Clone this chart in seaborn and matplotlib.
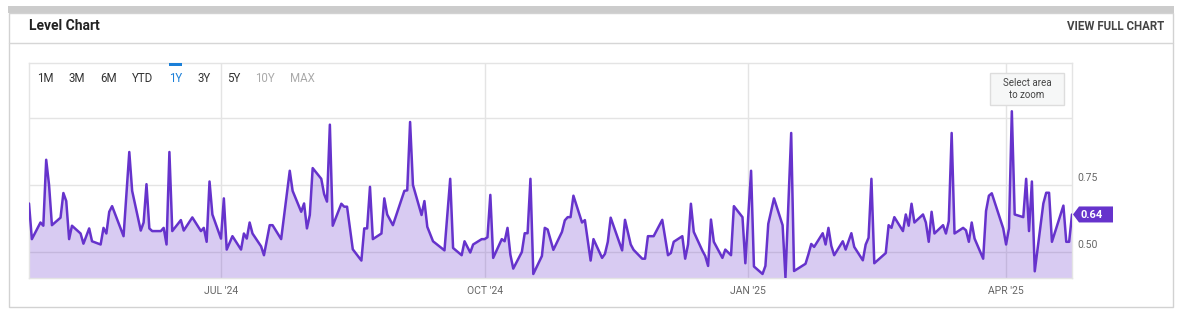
import matplotlib
matplotlib.use("Agg")
import matplotlib.pyplot as plt
import matplotlib.dates as mdates
import matplotlib.transforms as mtransforms
from matplotlib.patches import Polygon, Rectangle
from matplotlib.lines import Line2D
from matplotlib import font_manager
import numpy as np
import pandas as pd
import seaborn as sns

# ---------------- data ----------------
dates = [
    "2024-04-25", "2024-04-26", "2024-04-29", "2024-04-30", "2024-05-01", "2024-05-02", "2024-05-03",
    "2024-05-06", "2024-05-07", "2024-05-08", "2024-05-09", "2024-05-10", "2024-05-13", "2024-05-14",
    "2024-05-16", "2024-05-17", "2024-05-20", "2024-05-21", "2024-05-22", "2024-05-23", "2024-05-24",
    "2024-05-28", "2024-05-30", "2024-05-31", "2024-06-03", "2024-06-04", "2024-06-05", "2024-06-06",
    "2024-06-07", "2024-06-10", "2024-06-11", "2024-06-12", "2024-06-13", "2024-06-14", "2024-06-17",
    "2024-06-18", "2024-06-21", "2024-06-24", "2024-06-25", "2024-06-26", "2024-06-27", "2024-06-28",
    "2024-07-01", "2024-07-02", "2024-07-03", "2024-07-05", "2024-07-08", "2024-07-09", "2024-07-10",
    "2024-07-11", "2024-07-12", "2024-07-15", "2024-07-16", "2024-07-18", "2024-07-19", "2024-07-22",
    "2024-07-25", "2024-07-26", "2024-07-29", "2024-07-30", "2024-07-31", "2024-08-01", "2024-08-02",
    "2024-08-05", "2024-08-06", "2024-08-07", "2024-08-08", "2024-08-09", "2024-08-12", "2024-08-13",
    "2024-08-14", "2024-08-16", "2024-08-19", "2024-08-20", "2024-08-21", "2024-08-22", "2024-08-23",
    "2024-08-26", "2024-08-27", "2024-08-28", "2024-08-30", "2024-09-03", "2024-09-04", "2024-09-05",
    "2024-09-06", "2024-09-09", "2024-09-10", "2024-09-11", "2024-09-13", "2024-09-17", "2024-09-19",
    "2024-09-20", "2024-09-23", "2024-09-24", "2024-09-26", "2024-09-27", "2024-09-30", "2024-10-01",
    "2024-10-02", "2024-10-03", "2024-10-04", "2024-10-07", "2024-10-08", "2024-10-09", "2024-10-10",
    "2024-10-11", "2024-10-14", "2024-10-15", "2024-10-16", "2024-10-17", "2024-10-18", "2024-10-21",
    "2024-10-22", "2024-10-23", "2024-10-25", "2024-10-28", "2024-10-29", "2024-10-30", "2024-10-31",
    "2024-11-01", "2024-11-04", "2024-11-05", "2024-11-07", "2024-11-08", "2024-11-11", "2024-11-12",
    "2024-11-13", "2024-11-14", "2024-11-18", "2024-11-19", "2024-11-21", "2024-11-22", "2024-11-25",
    "2024-11-26", "2024-11-27", "2024-11-29", "2024-12-02", "2024-12-04", "2024-12-05", "2024-12-06",
    "2024-12-09", "2024-12-10", "2024-12-11", "2024-12-12", "2024-12-13", "2024-12-16", "2024-12-17",
    "2024-12-18", "2024-12-19", "2024-12-20", "2024-12-23", "2024-12-24", "2024-12-26", "2024-12-27",
    "2024-12-30", "2024-12-31", "2025-01-02", "2025-01-03", "2025-01-06", "2025-01-07", "2025-01-08",
    "2025-01-10", "2025-01-13", "2025-01-14", "2025-01-16", "2025-01-17", "2025-01-21", "2025-01-22",
    "2025-01-23", "2025-01-24", "2025-01-27", "2025-01-28", "2025-01-29", "2025-01-30", "2025-01-31",
    "2025-02-03", "2025-02-04", "2025-02-06", "2025-02-07", "2025-02-10", "2025-02-11", "2025-02-12",
    "2025-02-13", "2025-02-14", "2025-02-18", "2025-02-19", "2025-02-20", "2025-02-21", "2025-02-24",
    "2025-02-25", "2025-02-26", "2025-02-27", "2025-02-28", "2025-03-03", "2025-03-04", "2025-03-05",
    "2025-03-06", "2025-03-07", "2025-03-10", "2025-03-11", "2025-03-12", "2025-03-13", "2025-03-14",
    "2025-03-17", "2025-03-18", "2025-03-19", "2025-03-20", "2025-03-21", "2025-03-24", "2025-03-25",
    "2025-03-26", "2025-03-27", "2025-03-31", "2025-04-01", "2025-04-02", "2025-04-03", "2025-04-04",
    "2025-04-07", "2025-04-08", "2025-04-09", "2025-04-10", "2025-04-11", "2025-04-14", "2025-04-15",
    "2025-04-16", "2025-04-17", "2025-04-21", "2025-04-22", "2025-04-23", "2025-04-24",
]

values = [
    0.681, 0.548, 0.610, 0.598, 0.844, 0.750, 0.600,
    0.628, 0.720, 0.690, 0.548, 0.598, 0.569, 0.531,
    0.588, 0.540, 0.528, 0.590, 0.569, 0.650, 0.671,
    0.559, 0.873, 0.728, 0.580, 0.610, 0.753, 0.588,
    0.578, 0.578, 0.590, 0.528, 0.873, 0.578, 0.619,
    0.580, 0.629, 0.578, 0.590, 0.538, 0.763, 0.640,
    0.550, 0.700, 0.509, 0.559, 0.509, 0.569, 0.550,
    0.610, 0.569, 0.521, 0.488, 0.600, 0.600, 0.548,
    0.803, 0.728, 0.650, 0.681, 0.588, 0.638, 0.813,
    0.773, 0.716, 0.688, 0.975, 0.598, 0.680, 0.669,
    0.669, 0.510, 0.468, 0.588, 0.588, 0.743, 0.548,
    0.569, 0.700, 0.640, 0.600, 0.728, 0.730, 0.985,
    0.750, 0.638, 0.690, 0.594, 0.540, 0.506, 0.773,
    0.515, 0.488, 0.540, 0.498, 0.528, 0.548, 0.548,
    0.555, 0.713, 0.478, 0.548, 0.540, 0.590, 0.490,
    0.438, 0.500, 0.570, 0.570, 0.773, 0.418, 0.485,
    0.590, 0.584, 0.508, 0.575, 0.618, 0.630, 0.630,
    0.710, 0.610, 0.619, 0.468, 0.548, 0.478, 0.493,
    0.538, 0.628, 0.506, 0.620, 0.528, 0.508, 0.475,
    0.475, 0.559, 0.559, 0.620, 0.488, 0.496, 0.538,
    0.559, 0.475, 0.528, 0.680, 0.575, 0.505, 0.485,
    0.448, 0.621, 0.538, 0.478, 0.509, 0.488, 0.671,
    0.630, 0.458, 0.803, 0.446, 0.418, 0.448, 0.605,
    0.700, 0.600, 0.405, 0.944, 0.429, 0.456, 0.491,
    0.530, 0.519, 0.570, 0.528, 0.590, 0.523, 0.488,
    0.540, 0.509, 0.570, 0.519, 0.469, 0.528, 0.553,
    0.773, 0.458, 0.496, 0.600, 0.590, 0.630, 0.578,
    0.640, 0.598, 0.680, 0.610, 0.640, 0.610, 0.538,
    0.650, 0.569, 0.600, 0.569, 0.615, 0.944, 0.569,
    0.590, 0.581, 0.538, 0.610, 0.550, 0.475, 0.653,
    0.710, 0.719, 0.588, 0.528, 0.588, 1.025, 0.640,
    0.630, 0.773, 0.578, 0.763, 0.428, 0.681, 0.721,
    0.721, 0.538, 0.673, 0.538, 0.538, 0.640,
]

x_tick_dates = ["2024-07-01", "2024-10-01", "2025-01-01", "2025-04-01"]
x_tick_labels = ["JUL '24", "OCT '24", "JAN '25", "APR '25"]
y_grid_values = [0.50, 0.75, 1.00]
y_tick_values = [0.50, 0.75]
y_tick_labels = ["0.50", "0.75"]
range_buttons = ["1M", "3M", "6M", "YTD", "1Y", "3Y", "5Y", "10Y", "MAX"]
active_range = "1Y"
disabled_ranges = ["10Y", "MAX"]
title = "Level Chart"
link_text = "VIEW FULL CHART"
zoom_hint = "Select area\nto zoom"

# ---------------- style ----------------
sns.set_theme(style="white")
plt.rcParams['font.family'] = ['Roboto', 'DejaVu Sans']

installed = {f.name for f in font_manager.fontManager.ttflist}
HEAD_FONT = ['Liberation Sans Narrow', 'Roboto'] if 'Liberation Sans Narrow' in installed else ['Roboto']

LINE = '#6633cc'
GRID = '#e4e4e4'

W, H = 1182, 315
fig = plt.figure(figsize=(W / 100, H / 100), dpi=100)
fig.patch.set_facecolor('white')


def fx(px):
    return px / W


def fy(py):
    return 1 - py / H


def rect(x0, y0, x1, y1, **kw):
    r = Rectangle((fx(x0), fy(y1)), (x1 - x0) / W, (y1 - y0) / H,
                  transform=fig.transFigure, **kw)
    fig.patches.append(r)
    return r


# card chrome
rect(8, 6, 1173.5, 12.5, facecolor='#cccccc', edgecolor='none', zorder=1)
rect(8.5, 12.5, 1173, 306.5, facecolor='none', edgecolor='#d2d2d2', lw=1, zorder=1)
fig.add_artist(Line2D([fx(8.5), fx(1173)], [fy(42.5), fy(42.5)], transform=fig.transFigure,
                      color='#d6d6d6', lw=1))

if HEAD_FONT[0] == 'Roboto':
    title_size, link_size = 10, 8.3
else:
    title_size, link_size = 11, 9
fig.text(fx(29), fy(26), title, fontsize=title_size, fontweight='bold', color='#222222',
         ha='left', va='center', family=HEAD_FONT)
fig.text(fx(1164), fy(27), link_text, fontsize=link_size, fontweight='bold', color='#444444',
         ha='right', va='center', family=HEAD_FONT)

# ---------------- axes ----------------
ax = fig.add_axes([fx(29), fy(278), (1072 - 29) / W, (278 - 63) / H])
d = pd.to_datetime(dates)
ylo, yhi = 0.403, 1.205

ax.fill_between(d, values, ylo, color=LINE, alpha=0.25, lw=0, zorder=2)
sns.lineplot(x=d, y=values, ax=ax, color=LINE, lw=1.8, zorder=3)

ax.set_xlim(d[0], d[-1])
ax.set_ylim(ylo, yhi)
ax.set_yticks(y_grid_values)
ax.set_yticklabels([])
ax.set_xticks(pd.to_datetime(x_tick_dates))
ax.set_xticklabels(x_tick_labels, color='#666666', fontsize=7.5)
ax.tick_params(length=0, pad=6)
ax.grid(True, color=GRID, lw=1)
ax.set_axisbelow(True)
ax.set_xlabel('')
ax.set_ylabel('')
for s in ax.spines.values():
    s.set_color(GRID)
    s.set_linewidth(1)

# right-side value labels
ytrans = mtransforms.blended_transform_factory(ax.transAxes, ax.transData)
ytrans = mtransforms.offset_copy(ytrans, fig=fig, x=5, y=1.5, units='dots')
for v, lab in zip(y_tick_values, y_tick_labels):
    ax.text(1.0, v, lab, transform=ytrans, ha='left', va='bottom', fontsize=7.5,
            color='#666666', clip_on=False)

# last value badge
xlast = mdates.date2num(d[-1])
btrans = fig.dpi_scale_trans + mtransforms.ScaledTranslation(xlast, values[-1], ax.transData)
badge = Polygon([(0.01, 0), (0.07, 0.08), (0.41, 0.08), (0.41, -0.08), (0.07, -0.08)],
                closed=True, transform=btrans, facecolor=LINE, edgecolor='none',
                clip_on=False, zorder=6)
ax.add_patch(badge)
ax.text(0.085, -0.003, f"{values[-1]:.2f}", transform=btrans, ha='left', va='center',
        color='white', fontsize=8, fontweight='bold', clip_on=False, zorder=7)

# range buttons
btn_x = [45, 76.5, 108.5, 142.5, 175.5, 204.5, 234, 265, 302.5]
for lab, bx in zip(range_buttons, btn_x):
    if lab == active_range:
        col = '#1a7fd8'
    elif lab in disabled_ranges:
        col = '#aaaaaa'
    else:
        col = '#333333'
    fig.text(fx(bx), fy(79), lab, fontsize=8.3, color=col, ha='center', va='center', zorder=5)
    if lab == active_range:
        rect(bx - 6.5, 62.5, bx + 6.5, 65.5, facecolor='#1a7fd8', edgecolor='none', zorder=5)

# zoom hint box
rect(990, 73, 1064, 105, facecolor='#f6f7f7', edgecolor='#dddddd', lw=1, zorder=5)
fig.text(fx(1027), fy(89), zoom_hint, fontsize=7, color='#444444', ha='center', va='center',
         linespacing=1.25, zorder=6)

fig.savefig("out.png", dpi=100, facecolor='white')
